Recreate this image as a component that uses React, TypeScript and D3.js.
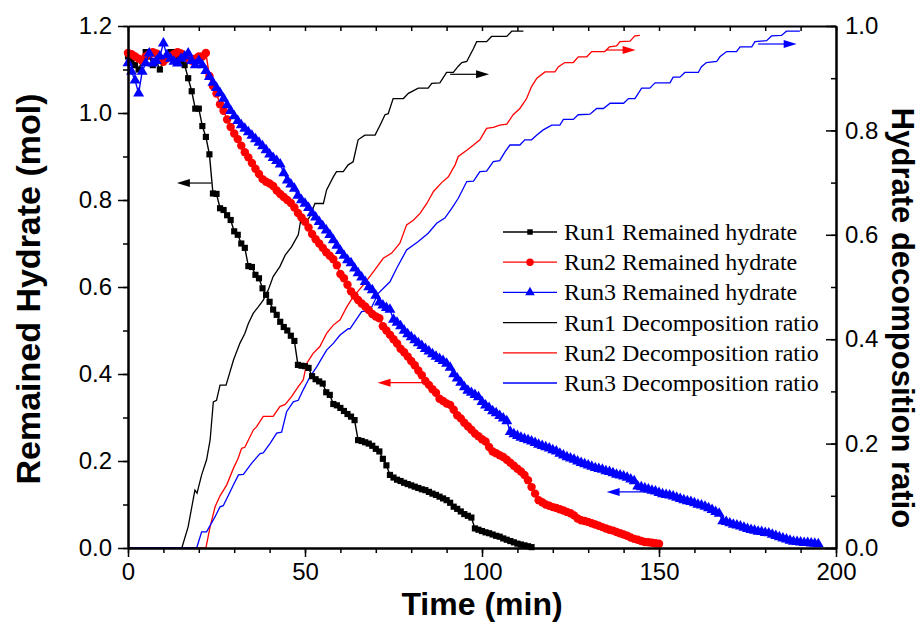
import React, { useRef, useEffect } from "react";
import * as d3 from "d3";

// remained hydrate (mol), one reading per minute starting at t = 0
const run1Remained = [
  1.13, 1.12, 1.11, 1.10, 1.12, 1.14, 1.13, 1.11, 1.12, 1.10,
  1.12, 1.13, 1.14, 1.14, 1.13, 1.12, 1.11, 1.08, 1.05, 1.01,
  1.01, 0.97, 0.945, 0.905, 0.815, 0.814, 0.781, 0.777, 0.765, 0.754,
  0.728, 0.72, 0.70, 0.69, 0.648, 0.646, 0.628, 0.62, 0.597, 0.582,
  0.566, 0.548, 0.536, 0.52, 0.508, 0.5, 0.488, 0.476, 0.421, 0.419,
  0.418, 0.414, 0.395, 0.388, 0.383, 0.378, 0.358, 0.352, 0.331, 0.328,
  0.322, 0.315, 0.308, 0.302, 0.294, 0.248, 0.246, 0.243, 0.24, 0.235,
  0.228, 0.222, 0.205, 0.19, 0.168, 0.162, 0.157, 0.154, 0.15, 0.147,
  0.144, 0.141, 0.138, 0.135, 0.133, 0.129, 0.125, 0.122, 0.118, 0.114,
  0.11, 0.104, 0.095, 0.09, 0.084, 0.078, 0.074, 0.07, 0.045, 0.042,
  0.039, 0.036, 0.034, 0.031, 0.028, 0.026, 0.022, 0.019, 0.016, 0.013,
  0.01, 0.008, 0.006, 0.004, 0.002,
];

const run2Remained = [
  1.138, 1.135, 1.13, 1.125, 1.12, 1.13, 1.135, 1.14, 1.137, 1.125,
  1.118, 1.125, 1.13, 1.135, 1.14, 1.137, 1.13, 1.125, 1.12, 1.125,
  1.13, 1.13, 1.138, 1.085, 1.062, 1.045, 1.02, 1.005, 0.985, 0.968,
  0.953, 0.94, 0.925, 0.91, 0.898, 0.885, 0.872, 0.86, 0.848, 0.842,
  0.838, 0.832, 0.822, 0.814, 0.807, 0.8, 0.793, 0.783, 0.77, 0.76,
  0.75, 0.737, 0.722, 0.71, 0.7, 0.69, 0.68, 0.672, 0.664, 0.65,
  0.63, 0.62, 0.605, 0.59, 0.58, 0.57, 0.562, 0.555, 0.547, 0.538,
  0.532, 0.528, 0.51, 0.5, 0.49, 0.48, 0.47, 0.458, 0.45, 0.44,
  0.43, 0.42, 0.408, 0.397, 0.384, 0.375, 0.365, 0.357, 0.343, 0.338,
  0.332, 0.329, 0.318, 0.305, 0.298, 0.288, 0.28, 0.272, 0.263, 0.257,
  0.25, 0.245, 0.232, 0.222, 0.218, 0.213, 0.209, 0.203, 0.196, 0.189,
  0.182, 0.176, 0.168, 0.156, 0.14, 0.125, 0.11, 0.105, 0.1, 0.097,
  0.094, 0.092, 0.089, 0.086, 0.083, 0.08, 0.075, 0.068, 0.064, 0.062,
  0.06, 0.057, 0.054, 0.051, 0.048, 0.045, 0.042, 0.04, 0.037, 0.034,
  0.031, 0.028, 0.024, 0.021, 0.019, 0.016, 0.014, 0.013, 0.012, 0.011,
  0.01,
];

const run3Remained = [
  1.115, 1.095, 1.075, 1.045, 1.095, 1.115, 1.137, 1.114, 1.12, 1.13,
  1.16, 1.133, 1.125, 1.118, 1.114, 1.125, 1.13, 1.137, 1.12, 1.11,
  1.12, 1.11, 1.097, 1.083, 1.07, 1.058, 1.046, 1.033, 1.018, 1.005,
  0.993, 0.982, 0.972, 0.964, 0.956, 0.948, 0.94, 0.932, 0.924, 0.915,
  0.905, 0.897, 0.89, 0.882, 0.862, 0.845, 0.836, 0.826, 0.81, 0.8,
  0.792, 0.782, 0.77, 0.76, 0.75, 0.74, 0.73, 0.72, 0.708, 0.695,
  0.683, 0.672, 0.662, 0.655, 0.643, 0.632, 0.622, 0.612, 0.6, 0.593,
  0.58, 0.565, 0.558, 0.552, 0.548, 0.525, 0.518, 0.51, 0.5, 0.492,
  0.485, 0.478, 0.471, 0.465, 0.458, 0.452, 0.446, 0.44, 0.435, 0.43,
  0.424, 0.415, 0.4, 0.39, 0.38, 0.37, 0.362, 0.357, 0.352, 0.347,
  0.336, 0.328, 0.322, 0.315, 0.31, 0.304, 0.298, 0.292, 0.267, 0.262,
  0.258, 0.254, 0.251, 0.248, 0.245, 0.242, 0.238, 0.235, 0.232, 0.229,
  0.225, 0.222, 0.217, 0.213, 0.209, 0.206, 0.203, 0.199, 0.196, 0.193,
  0.19, 0.187, 0.184, 0.182, 0.18, 0.177, 0.175, 0.172, 0.169, 0.167,
  0.165, 0.162, 0.158, 0.154, 0.142, 0.14, 0.137, 0.135, 0.132, 0.13,
  0.127, 0.124, 0.122, 0.121, 0.119, 0.116, 0.113, 0.11, 0.108, 0.106,
  0.103, 0.1, 0.098, 0.095, 0.092, 0.088, 0.083, 0.079, 0.062, 0.06,
  0.057, 0.054, 0.052, 0.05, 0.047, 0.044, 0.042, 0.04, 0.038, 0.037,
  0.035, 0.034, 0.031, 0.028, 0.025, 0.022, 0.02, 0.017, 0.015, 0.014,
  0.013, 0.012, 0.012, 0.011, 0.01, 0.009,
];

// decomposition ratio, [time (min), ratio] corners of the staircase
const run1Ratio = [
  [0, 0], [15.2, 0], [17, 0.041], [18.9, 0.111], [19.5, 0.105], [20.8, 0.14], [22.2, 0.169],
  [23.2, 0.207], [24.1, 0.28], [25, 0.283], [26, 0.312], [27.7, 0.312], [29.8, 0.36],
  [31.6, 0.392], [33, 0.411], [34, 0.43], [35.4, 0.45], [36.8, 0.462], [38.2, 0.475],
  [39.6, 0.494], [41, 0.52], [42.9, 0.539], [44.4, 0.561], [46.2, 0.577], [48.1, 0.6],
  [48.8, 0.628], [50, 0.622], [51.4, 0.635], [52.8, 0.66], [55.2, 0.66], [56.1, 0.686],
  [58, 0.711], [58.9, 0.721], [60.8, 0.721], [62.2, 0.734], [63.6, 0.74], [65, 0.782],
  [66.9, 0.791], [69.8, 0.791], [71.2, 0.81], [72.6, 0.83], [73.5, 0.832], [74.9, 0.861],
  [77.8, 0.861], [79.2, 0.871], [82, 0.881], [84.8, 0.881], [85.8, 0.89], [88.1, 0.891],
  [90, 0.911], [91.9, 0.911], [93.3, 0.923], [94.3, 0.93], [95.7, 0.932], [96.6, 0.944],
  [97.6, 0.957], [98.5, 0.97], [101.3, 0.97], [102.7, 0.98], [107, 0.98], [108.4, 0.99],
  [111.7, 0.99],
];

const run2Ratio = [
  [0, 0], [22, 0], [23.2, 0.041], [24.6, 0.079], [26, 0.1], [27.9, 0.121], [29.8, 0.153],
  [31, 0.17], [32.1, 0.191], [33, 0.193], [35.4, 0.226], [36.3, 0.232], [38.2, 0.252],
  [41, 0.252], [42.9, 0.271], [44.4, 0.275], [46.2, 0.29], [48.1, 0.309], [49.5, 0.322],
  [50.5, 0.354], [52.3, 0.373], [54.2, 0.386], [56.1, 0.411], [58, 0.427], [59.9, 0.437],
  [61.8, 0.462], [63.6, 0.481], [66.5, 0.504], [69.3, 0.529], [72.1, 0.555], [74.5, 0.565],
  [76.8, 0.584], [78.7, 0.619], [80.6, 0.628], [82.5, 0.641], [84.4, 0.66], [86.3, 0.683],
  [88.6, 0.7], [90.5, 0.711], [92.4, 0.734], [93.3, 0.75], [95.7, 0.762], [97.6, 0.772],
  [99.4, 0.782], [101.3, 0.804], [103.2, 0.806], [105, 0.81], [107, 0.812], [108.8, 0.83],
  [110.7, 0.842], [112.6, 0.861], [114, 0.884], [115.5, 0.9], [117.8, 0.912], [120.6, 0.912],
  [121.6, 0.922], [123.4, 0.93], [125.8, 0.93], [127.2, 0.941], [129.6, 0.941], [131, 0.951],
  [134.7, 0.951], [136, 0.96], [138, 0.962], [139, 0.97], [141.8, 0.971], [143.2, 0.981],
  [144.6, 0.982],
];

const run3Ratio = [
  [0, 0], [19.4, 0], [20.8, 0.031], [22.2, 0.031], [24.6, 0.06], [26, 0.079], [26.9, 0.081],
  [28.3, 0.1], [29.8, 0.121], [31.2, 0.14], [32.6, 0.141], [34.9, 0.162], [37.3, 0.181],
  [38.2, 0.182], [40.1, 0.2], [42, 0.22], [43.4, 0.222], [44.8, 0.261], [46.7, 0.28],
  [48.1, 0.283], [49.5, 0.303], [51.4, 0.328], [53.3, 0.347], [56.1, 0.379], [58, 0.392],
  [59.9, 0.408], [62.2, 0.42], [62.7, 0.42], [66, 0.453], [68.4, 0.455], [70.7, 0.488],
  [74, 0.51], [75.9, 0.536], [78.7, 0.571], [82, 0.587], [84.8, 0.603], [87.2, 0.622],
  [89.5, 0.632], [91.4, 0.65], [93.3, 0.67], [95.7, 0.702], [97.6, 0.703], [99.4, 0.721],
  [101.3, 0.722], [103.2, 0.74], [105, 0.742], [106.5, 0.759], [107.9, 0.772], [110.7, 0.772],
  [112.1, 0.782], [114, 0.782], [115.5, 0.791], [117.3, 0.801], [119.7, 0.81], [122, 0.81],
  [123, 0.821], [125.8, 0.821], [127.2, 0.83], [130.5, 0.831], [132.4, 0.842], [134.3, 0.842],
  [136.2, 0.852], [140, 0.852], [141.4, 0.861], [143.2, 0.861], [145.1, 0.881], [147.4, 0.881],
  [148.9, 0.891], [153.1, 0.891], [154, 0.902], [155.9, 0.902], [157.3, 0.911], [161.1, 0.911],
  [162, 0.922], [163.4, 0.93], [166.3, 0.932], [167.2, 0.941], [169.1, 0.951], [171.9, 0.951],
  [172.9, 0.96], [176.2, 0.96], [177.1, 0.97], [180.4, 0.972], [181.8, 0.981], [184.6, 0.982],
  [186, 0.99], [189.8, 0.99],
];

const xTicks = [0, 50, 100, 150, 200];
const leftTicks = [0, 0.2, 0.4, 0.6, 0.8, 1.0, 1.2];
const rightTicks = [0, 0.2, 0.4, 0.6, 0.8, 1.0];

const legendLabels = [
  "Run1 Remained hydrate",
  "Run2 Remained hydrate",
  "Run3 Remained hydrate",
  "Run1 Decomposition ratio",
  "Run2 Decomposition ratio",
  "Run3 Decomposition ratio",
];

// arrows pointing at the axis each curve belongs to
const arrows = [
  { from: 23.6, to: 13.8, v: 0.839, axis: "left", color: "#000" },
  { from: 91, to: 102, v: 0.9075, axis: "right", color: "#000" },
  { from: 83.7, to: 70.5, v: 0.38, axis: "left", color: "#ff0000" },
  { from: 135.2, to: 143.4, v: 0.954, axis: "right", color: "#ff0000" },
  { from: 147.9, to: 135.2, v: 0.129, axis: "left", color: "#0000ff" },
  { from: 178, to: 188.9, v: 0.9655, axis: "right", color: "#0000ff" },
];

const W = 921;
const H = 637;
const margin = { top: 26, right: 85, bottom: 89, left: 128 };

export default function App() {
  const svgRef = useRef(null);

  useEffect(() => {
    const svg = d3.select(svgRef.current);
    svg.selectAll("*").remove();

    const x = d3.scaleLinear().domain([0, 200]).range([margin.left, W - margin.right]);
    const yL = d3.scaleLinear().domain([0, 1.2]).range([H - margin.bottom, margin.top]);
    const yR = d3.scaleLinear().domain([0, 1.0]).range([H - margin.bottom, margin.top]);
    const bottom = H - margin.bottom;
    const right = W - margin.right;

    const sans = "'Liberation Sans', Arial, sans-serif";
    const serif = "'Liberation Serif', 'Times New Roman', serif";

    const plot = svg.append("g");

    // ratio lines
    const ratioLine = d3.line().x((d) => x(d[0])).y((d) => yR(d[1]));
    [[run1Ratio, "#000"], [run2Ratio, "#ff0000"], [run3Ratio, "#0000ff"]].forEach(([data, c]) => {
      plot.append("path")
        .attr("d", ratioLine(data))
        .attr("fill", "none")
        .attr("stroke", c)
        .attr("stroke-width", 1.3);
    });

    // remained hydrate
    const remLine = d3.line().x((d, i) => x(i)).y((d) => yL(d));
    const series = [
      { data: run1Remained, color: "#000", shape: d3.symbolSquare, size: 38 },
      { data: run2Remained, color: "#ff0000", shape: d3.symbolCircle, size: 56 },
      { data: run3Remained, color: "#0000ff", shape: d3.symbolTriangle, size: 52 },
    ];
    series.forEach((s) => {
      plot.append("path")
        .attr("d", remLine(s.data))
        .attr("fill", "none")
        .attr("stroke", s.color)
        .attr("stroke-width", 1.4);
      plot.append("g")
        .selectAll("path")
        .data(s.data)
        .join("path")
        .attr("transform", (d, i) => `translate(${x(i)},${yL(d)})`)
        .attr("d", d3.symbol().type(s.shape).size(s.size)())
        .attr("fill", s.color);
    });

    // arrows
    arrows.forEach((a) => {
      const yy = a.axis === "left" ? yL(a.v) : yR(a.v);
      const x1 = x(a.from);
      const x2 = x(a.to);
      const dir = Math.sign(x2 - x1);
      plot.append("line")
        .attr("x1", x1).attr("x2", x2 - dir * 10)
        .attr("y1", yy).attr("y2", yy)
        .attr("stroke", a.color).attr("stroke-width", 1.2);
      plot.append("path")
        .attr("d", `M${x2},${yy} L${x2 - dir * 13},${yy - 4} L${x2 - dir * 13},${yy + 4} Z`)
        .attr("fill", a.color);
    });

    // axes
    const styleAxis = (g) => {
      g.select(".domain").attr("stroke", "#000").attr("stroke-width", 2);
      g.selectAll(".tick line").attr("stroke", "#000").attr("stroke-width", 1.5);
      g.selectAll("text").attr("font-family", sans).attr("font-size", 24).attr("fill", "#000");
    };

    svg.append("g")
      .attr("transform", `translate(0,${bottom})`)
      .call(d3.axisBottom(x).tickValues(d3.range(0, 201, 10)).tickSize(5).tickFormat(() => "").tickSizeOuter(0))
      .call(styleAxis);
    svg.append("g")
      .attr("transform", `translate(0,${bottom})`)
      .call(d3.axisBottom(x).tickValues(xTicks).tickSize(9).tickPadding(6).tickFormat(d3.format("d")).tickSizeOuter(0))
      .call(styleAxis);

    svg.append("g")
      .attr("transform", `translate(0,${margin.top})`)
      .call(d3.axisTop(x).tickValues(d3.range(0, 201, 10)).tickSize(-5).tickFormat(() => "").tickSizeOuter(0))
      .call(styleAxis);

    svg.append("g")
      .attr("transform", `translate(${margin.left},0)`)
      .call(d3.axisLeft(yL).tickValues(d3.range(0, 1.21, 0.1)).tickSize(5).tickFormat(() => "").tickSizeOuter(0))
      .call(styleAxis);
    svg.append("g")
      .attr("transform", `translate(${margin.left},0)`)
      .call(d3.axisLeft(yL).tickValues(leftTicks).tickSize(10).tickPadding(6).tickFormat(d3.format(".1f")).tickSizeOuter(0))
      .call(styleAxis);

    svg.append("g")
      .attr("transform", `translate(${right},0)`)
      .call(d3.axisRight(yR).tickValues(d3.range(0, 1.01, 0.1)).tickSize(-5).tickFormat(() => "").tickSizeOuter(0))
      .call(styleAxis);
    svg.append("g")
      .attr("transform", `translate(${right},0)`)
      .call(d3.axisRight(yR).tickValues(rightTicks).tickSize(-10).tickPadding(9).tickFormat(d3.format(".1f")).tickSizeOuter(0))
      .call(styleAxis);

    // axis titles
    svg.append("text")
      .attr("x", (margin.left + right) / 2)
      .attr("y", 615)
      .attr("text-anchor", "middle")
      .attr("font-family", sans).attr("font-weight", "bold").attr("font-size", 32)
      .text("Time (min)");
    svg.append("text")
      .attr("transform", `translate(40,${(margin.top + bottom) / 2 + 2}) rotate(-90)`)
      .attr("text-anchor", "middle")
      .attr("font-family", sans).attr("font-weight", "bold").attr("font-size", 34)
      .text("Remained Hydrate (mol)");
    svg.append("text")
      .attr("transform", `translate(892,${(margin.top + bottom) / 2 + 31}) rotate(90)`)
      .attr("text-anchor", "middle")
      .attr("font-family", sans).attr("font-weight", "bold").attr("font-size", 31)
      .text("Hydrate decomposition ratio");

    // legend
    const legend = svg.append("g").attr("transform", "translate(503,232)");
    const legendColors = ["#000", "#ff0000", "#0000ff", "#000", "#ff0000", "#0000ff"];
    const legendShapes = [d3.symbolSquare, d3.symbolCircle, d3.symbolTriangle, null, null, null];
    const legendSizes = [30, 44, 40, 0, 0, 0];
    legendLabels.forEach((lab, i) => {
      const row = legend.append("g").attr("transform", `translate(0,${i * 30.2})`);
      row.append("line")
        .attr("x1", 0).attr("x2", 54).attr("y1", 0).attr("y2", 0)
        .attr("stroke", legendColors[i]).attr("stroke-width", 1.3);
      if (legendShapes[i]) {
        row.append("path")
          .attr("transform", "translate(27,0)")
          .attr("d", d3.symbol().type(legendShapes[i]).size(legendSizes[i])())
          .attr("fill", legendColors[i]);
      }
      row.append("text")
        .attr("x", 61).attr("y", 8)
        .attr("font-family", serif).attr("font-size", 24)
        .text(lab);
    });
  }, []);

  return (
    <svg
      ref={svgRef}
      width={W}
      height={H}
      style={{ position: "absolute", left: 0, top: 0, background: "#fff" }}
    />
  );
}
